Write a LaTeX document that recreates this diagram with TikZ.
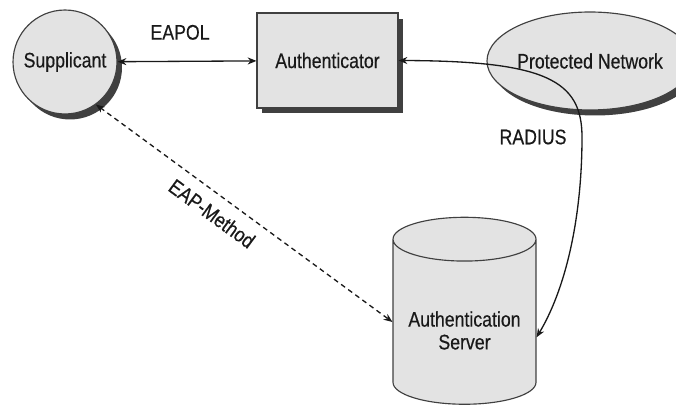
\documentclass[tikz,border=0pt]{standalone}
\usepackage{fontspec}
\setmainfont{Liberation Sans}[FakeStretch=0.84, FakeBold=0.4]
\usetikzlibrary{arrows.meta,positioning,shapes.geometric,shadows}

\begin{document}
\begin{tikzpicture}[
        x=0.02cm, y=-0.02cm,
        every node/.style={color=black!90, font=\fontsize{12}{13}\selectfont},
        entity/.style={draw=black!75, fill=black!11, line width=0.65pt, inner sep=0pt},
        shade/.style={drop shadow={shadow xshift=0.1cm, shadow yshift=-0.11cm,
            fill=black!75, opacity=1}},
        link/.style={black!90, line width=0.75pt,
            {Stealth[length=5pt,width=4pt]}-{Stealth[length=5pt,width=4pt]}},
        eap/.style={link, dash pattern=on 2.8pt off 2.2pt},
    ]
    \useasboundingbox (0,0) rectangle (676,415);
    % entities
    \node[entity, shade, circle, minimum size=2.08cm] (sup) at (65,62) {Supplicant};
    \node[entity, shade, rectangle, minimum width=2.82cm, minimum height=1.9cm]
        (auth) at (327.5,60.5) {Authenticator};
    \node[entity, shade, ellipse, minimum width=3.4cm, minimum height=1.96cm]
        (net) at (590,61) {Protected Network};
    \node[entity, cylinder, shape border rotate=90, aspect=0.39,
        minimum width=2.86cm, minimum height=3.74cm]
        (srv) at (464.5,322) {\raisebox{-6.5pt}[\height][\depth]{%
            \begin{tabular}{@{}c@{}}Authentication\\Server\end{tabular}}};
    % connectors
    \draw[link] (sup) -- (auth) node[pos=0.45, above=0.3cm] {EAPOL};
    \draw[link] (auth.east) .. controls (545,61) and (582,80) .. (582,137)
        node[left=0.18cm] {RADIUS}
        .. controls (582,220) and (565,290) .. (srv.-12);
    \draw[eap] (sup.-54) -- (srv.west)
        node[pos=0.43, sloped, below=0.1cm] {EAP-Method};
\end{tikzpicture}
\end{document}
